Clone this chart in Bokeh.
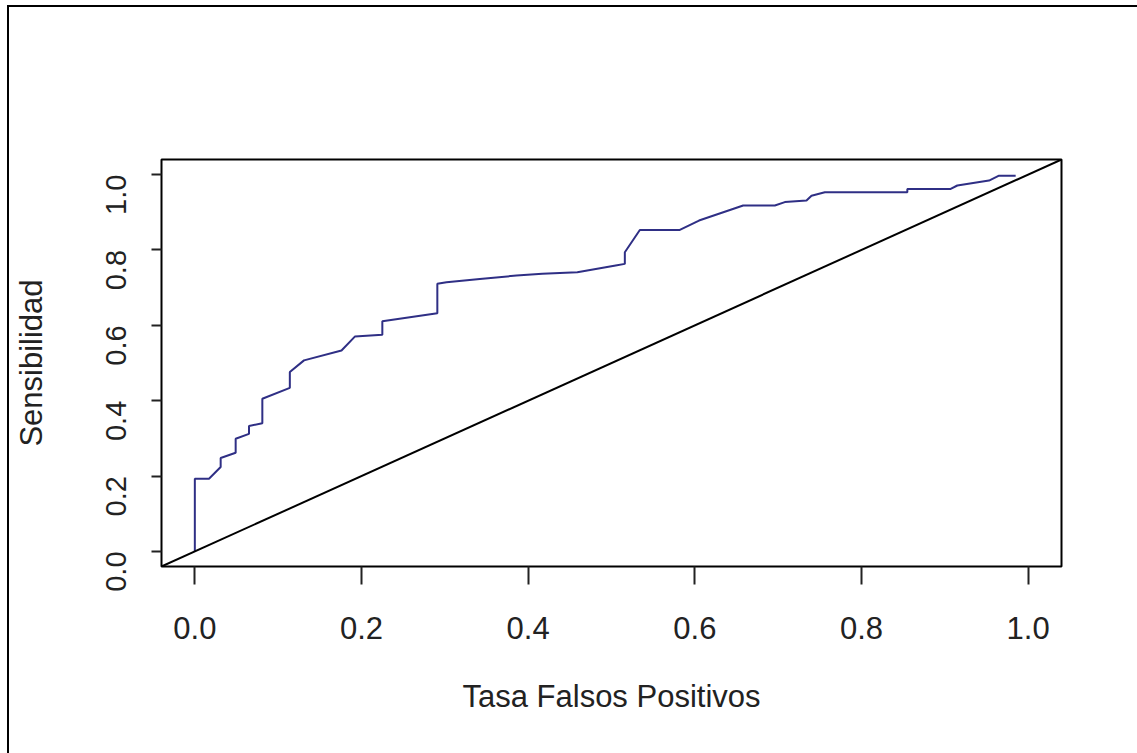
import math
from bokeh.plotting import figure
from bokeh.models import Range1d, FixedTicker, NumeralTickFormatter, Slope, InlineStyleSheet
from bokeh.embed import file_html
from bokeh.resources import INLINE

# ROC curve
fpr = [0, 0, 0.017, 0.031, 0.031, 0.049, 0.049, 0.065, 0.065, 0.081,
       0.081, 0.114, 0.114, 0.131, 0.176, 0.192, 0.225, 0.225, 0.291, 0.291,
       0.302, 0.342, 0.386, 0.417, 0.459, 0.505, 0.516, 0.516, 0.534, 0.582,
       0.605, 0.658, 0.696, 0.708, 0.734, 0.740, 0.756, 0.855, 0.855, 0.907,
       0.915, 0.953, 0.965, 0.985]
tpr = [0, 0.193, 0.193, 0.224, 0.248, 0.262, 0.299, 0.312, 0.333, 0.340,
       0.405, 0.434, 0.476, 0.507, 0.533, 0.570, 0.575, 0.611, 0.632, 0.710,
       0.714, 0.723, 0.732, 0.737, 0.741, 0.759, 0.763, 0.794, 0.853, 0.853,
       0.878, 0.918, 0.918, 0.927, 0.931, 0.944, 0.953, 0.953, 0.962, 0.962,
       0.971, 0.984, 0.997, 0.997]
ticks = [0.0, 0.2, 0.4, 0.6, 0.8, 1.0]
x_title = "Tasa Falsos Positivos"
y_title = "Sensibilidad"

FONT = "Liberation Sans"

p = figure(width=1137, height=753, output_backend="svg", toolbar_location=None,
           x_range=Range1d(-0.04, 1.04), y_range=Range1d(-0.04, 1.04),
           min_border_left=161, min_border_right=76, min_border_top=159,
           min_border_bottom=187)
p.background_fill_color = "white"
p.border_fill_color = "white"
p.outline_line_color = "black"
p.outline_line_width = 2
p.grid.visible = False

p.line(fpr, tpr, line_color="#2f2f85", line_width=2)
p.add_layout(Slope(gradient=1, y_intercept=0, line_color="black", line_width=2))

for ax in (p.xaxis[0], p.yaxis[0]):
    ax.ticker = FixedTicker(ticks=ticks)
    ax.formatter = NumeralTickFormatter(format="0.0")
    ax.axis_line_color = None
    ax.major_tick_in = 0
    ax.minor_tick_line_color = None
    ax.major_tick_line_color = "#222222"
    ax.major_tick_line_width = 2
    ax.major_label_text_font = FONT
    ax.major_label_text_color = "#222222"
    ax.axis_label_text_font = FONT
    ax.axis_label_text_font_size = "31px"
    ax.axis_label_text_font_style = "normal"
    ax.axis_label_text_color = "#222222"

p.xaxis[0].major_tick_out = 18
p.xaxis[0].major_label_text_font_size = "31px"
p.xaxis[0].major_label_standoff = 32
p.xaxis[0].axis_label = x_title
p.xaxis[0].axis_label_standoff = 37

p.yaxis[0].major_tick_out = 10
p.yaxis[0].major_label_text_font_size = "29px"
p.yaxis[0].major_label_orientation = math.pi / 2
p.yaxis[0].major_label_standoff = 35
p.yaxis[0].axis_label = y_title
p.yaxis[0].axis_label_standoff = 45

# outer picture frame (left and top edges of the original picture)
p.stylesheets = [InlineStyleSheet(css="""
:host { position: relative; }
:host::after {
  content: ""; position: absolute; left: 7px; top: 5px; right: 0px; bottom: 0px;
  border-left: 2px solid black; border-top: 2px solid black;
  pointer-events: none; z-index: 10;
}
""")]

open("out.html", "w").write(file_html(p, INLINE))
